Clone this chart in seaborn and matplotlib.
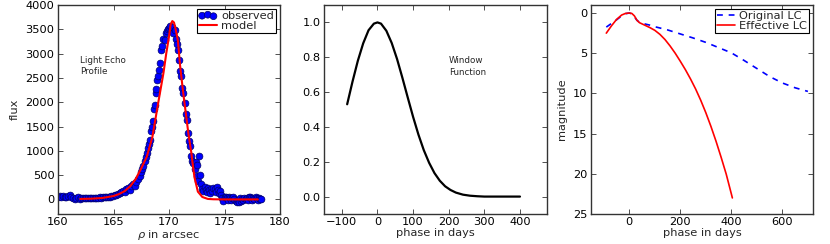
import numpy as np
import pandas as pd
import matplotlib
matplotlib.use("Agg")
import matplotlib.pyplot as plt
import seaborn as sns

# ---------------- data ----------------
# Panel 1: light echo profile
obs_rho = [160.0, 160.15, 160.3, 160.45, 160.6, 160.75, 160.9, 161.05, 161.2, 161.35, 161.5, 161.65, 161.8, 161.95,
           162.1, 162.25, 162.4, 162.55, 162.7, 162.85, 163.0, 163.15, 163.3, 163.45, 163.6, 163.75, 163.9,
           164.05, 164.2, 164.35, 164.5, 164.65, 164.8, 164.95, 165.1, 165.25, 165.4, 165.55, 165.7, 165.85,
           166.0, 166.15, 166.3, 166.45, 166.6, 166.75, 166.9, 167.05, 167.2, 167.35, 167.5, 167.6, 167.7,
           167.8, 167.9, 168.0, 168.1, 168.2, 168.3, 168.4, 168.5, 168.55, 168.65, 168.7, 168.8, 168.85,
           168.95, 169.0, 169.1, 169.2, 169.3, 169.4, 169.5, 169.6, 169.7, 169.8, 169.9, 170.0, 170.1, 170.2,
           170.3, 170.4, 170.5, 170.6, 170.7, 170.8, 170.9, 171.0, 171.1, 171.2, 171.3, 171.4, 171.5, 171.6,
           171.7, 171.8, 171.9, 172.0, 172.1, 172.2, 172.3, 172.4, 172.5, 172.55, 172.6, 172.7, 172.8, 172.9,
           173.0, 173.1, 173.2, 173.3, 173.4, 173.5, 173.6, 173.7, 173.8, 173.9, 174.0, 174.1, 174.2, 174.3,
           174.4, 174.5, 174.6, 174.7, 174.8, 174.9, 175.0, 175.1, 175.2, 175.3, 175.4, 175.5, 175.6, 175.7,
           175.8, 175.9, 176.0, 176.1, 176.2, 176.3, 176.4, 176.5, 176.6, 176.7, 176.8, 176.9, 177.0, 177.1,
           177.2, 177.3, 177.4, 177.5, 177.6, 177.7, 177.8, 177.9, 178.0, 178.1, 178.2, 178.3]
obs_flux = [40, 70, 60, 80, 55, 45, 70, 85, 50, 20, 10, 30, 40, 15,
            20, 30, 25, 35, 20, 30, 25, 35, 30, 20, 35, 40, 30,
            45, 40, 50, 45, 55, 70, 80, 95, 90, 120, 130, 150, 170,
            160, 210, 230, 200, 280, 320, 270, 360, 410, 480, 560, 620, 690,
            800, 870, 960, 1060, 1150, 1230, 1400, 1500, 1620, 1850, 1950, 2190, 2280,
            2450, 2530, 2660, 2800, 3075, 3150, 3310, 3280, 3420, 3470, 3500, 3520, 3560, 3480,
            3550, 3420, 3490, 3300, 3200, 3075, 2870, 2650, 2530, 2300, 2187, 1980, 1750, 1640,
            1370, 1200, 1090, 890, 800, 750, 620, 760, 480, 700, 380, 890, 500, 320,
            220, 180, 250, 200, 160, 230, 190, 140, 210, 180, 240, 220, 150, 250,
            200, 130, 180, 90, 20, -30, 40, 60, 30, -10, 50, 20, -20, 30,
            60, 10, -40, -60, -20, -50, 20, -30, 10, -20, 30, 0, 20, -10,
            40, 60, 20, -20, 30, 10, 40, 20, -10, 30, 10, 0]

model_rho = [162.0, 163.0, 164.0, 165.0, 165.5, 166.0, 166.5, 167.0, 167.5, 168.0, 168.5, 169.0,
             169.5, 169.75, 170.0, 170.15, 170.3, 170.45, 170.6, 170.8, 171.0, 171.25, 171.5,
             171.75, 172.0, 172.15, 172.3, 172.6, 173.0, 173.5, 174.0, 175.0, 176.0, 177.0, 178.0]
model_flux = [10, 15, 30, 70, 110, 170, 270, 420, 640, 880, 1280, 1950,
              2600, 3000, 3350, 3600, 3670, 3640, 3500, 3270, 2750, 2250, 1800,
              1350, 980, 700, 450, 160, 50, 10, 3, 0, 0, 0, 0]

# Panel 2: window function
win_phase = [-85, -70, -55, -40, -25, -10, 0, 10, 25, 40, 55, 70, 85, 100, 115, 130, 145,
             160, 175, 190, 205, 220, 240, 260, 280, 300, 350, 400]
win_value = [0.53, 0.66, 0.78, 0.88, 0.955, 0.993, 1.0, 0.993, 0.952, 0.882, 0.79, 0.682, 0.569,
             0.458, 0.356, 0.267, 0.194, 0.135, 0.091, 0.059, 0.038, 0.023, 0.011, 0.005,
             0.002, 0.0, 0.0, 0.0]

# Panel 3: light curves
orig_phase = [-90, -70, -50, -30, -15, 0, 10, 20, 30, 40, 60, 80, 100, 150, 200, 250, 300, 350,
              400, 450, 500, 550, 600, 650, 700]
orig_mag = [1.75, 1.3, 0.85, 0.35, 0.08, 0.0, 0.1, 0.45, 0.9, 1.15, 1.35, 1.5, 1.7, 2.1, 2.6,
            3.1, 3.65, 4.3, 4.95, 5.9, 6.9, 7.9, 8.7, 9.3, 9.75]
eff_phase = [-90, -70, -50, -30, -15, 0, 10, 20, 30, 40, 60, 80, 100, 120, 140, 160, 180, 200,
             220, 240, 260, 280, 300, 320, 340, 360, 380, 400, 404]
eff_mag = [2.5, 1.6, 0.8, 0.25, 0.05, 0.0, 0.05, 0.35, 0.9, 1.2, 1.5, 1.8, 2.15, 2.65, 3.3,
           4.1, 5.0, 6.0, 7.05, 8.2, 9.45, 10.85, 12.4, 14.1, 15.95, 17.95, 20.05, 22.5, 23.0]

# ---------------- style ----------------
sns.set_style("white")
FS = 8.2
plt.rcParams.update({
    "font.family": ["DejaVu Sans"],
    "font.size": FS,
    "axes.edgecolor": "#333333",
    "axes.linewidth": 1.0,
    "xtick.direction": "in",
    "ytick.direction": "in",
    "xtick.top": True,
    "ytick.right": True,
    "xtick.bottom": True,
    "ytick.left": True,
    "xtick.major.size": 3.5,
    "ytick.major.size": 3.5,
    "xtick.major.width": 0.6,
    "ytick.major.width": 0.6,
    "xtick.color": "#333333",
    "ytick.color": "#333333",
    "xtick.labelcolor": "black",
    "ytick.labelcolor": "black",
    "xtick.labelsize": FS,
    "ytick.labelsize": FS,
    "xtick.major.pad": 2.2,
    "ytick.major.pad": 2.5,
    "axes.labelsize": FS,
    "legend.fontsize": FS,
})

fig = plt.figure(figsize=(8.3, 2.44), dpi=100)
W, H = 830.0, 244.0
bottom = 1 - 214 / H
height = 209 / H
ax1 = fig.add_axes([58 / W, bottom, 222 / W, height])
ax2 = fig.add_axes([324 / W, bottom, 222.7 / W, height])
ax3 = fig.add_axes([591 / W, bottom, 222 / W, height])

# Panel 1
df_obs = pd.DataFrame({"rho": obs_rho, "flux": obs_flux})
df_mod = pd.DataFrame({"rho": model_rho, "flux": model_flux})
sns.scatterplot(data=df_obs, x="rho", y="flux", ax=ax1, color="#0000ff", s=24,
                edgecolor="#000066", linewidth=0.5, label="observed", zorder=2)
sns.lineplot(data=df_mod, x="rho", y="flux", ax=ax1, color="#ff0000", lw=1.5,
             label="model", zorder=3, sort=False)
ax1.set_xlim(160, 180)
ax1.set_ylim(-300, 4000)
ax1.set_xticks([160, 165, 170, 175, 180])
ax1.set_yticks(range(0, 4001, 500))
ax1.set_xlabel(r"$\rho$ in arcsec", labelpad=0.5)
ax1.set_ylabel("flux", labelpad=4)
ax1.text(162.0, 2960, "Light Echo\nProfile", fontsize=6.3, va="top", ha="left", linespacing=1.35)
leg1 = ax1.legend(loc="upper right", scatterpoints=3, handlelength=1.6, handletextpad=0.4,
                  borderpad=0.15, borderaxespad=0.35, labelspacing=0.05, fancybox=False,
                  frameon=True, edgecolor="black", framealpha=1)
leg1.get_frame().set_linewidth(0.8)

# Panel 2
df_win = pd.DataFrame({"phase": win_phase, "value": win_value})
sns.lineplot(data=df_win, x="phase", y="value", ax=ax2, color="black", lw=1.6, sort=False)
ax2.set_xlim(-150, 475)
ax2.set_ylim(-0.1, 1.1)
ax2.set_xticks([-100, 0, 100, 200, 300, 400])
ax2.set_yticks([0.0, 0.2, 0.4, 0.6, 0.8, 1.0])
ax2.set_xlabel("phase in days", labelpad=0.5)
ax2.set_ylabel("")
ax2.text(200, 0.805, "Window\nFunction", fontsize=6.3, va="top", ha="left", linespacing=1.35)

# Panel 3
df_orig = pd.DataFrame({"phase": orig_phase, "mag": orig_mag})
df_eff = pd.DataFrame({"phase": eff_phase, "mag": eff_mag})
sns.lineplot(data=df_orig, x="phase", y="mag", ax=ax3, color="#0000ff", lw=1.2,
             linestyle=(0, (3.5, 3.5)), label="Original LC", sort=False)
sns.lineplot(data=df_eff, x="phase", y="mag", ax=ax3, color="#ff0000", lw=1.2,
             label="Effective LC", sort=False)
ax3.set_xlim(-150, 720)
ax3.set_ylim(25, -1)
ax3.set_xticks([0, 200, 400, 600])
ax3.set_yticks([0, 5, 10, 15, 20, 25])
ax3.set_xlabel("phase in days", labelpad=0.5)
ax3.set_ylabel("magnitude", labelpad=4)
leg3 = ax3.legend(loc="upper right", handlelength=1.6, handletextpad=0.4,
                  borderpad=0.15, borderaxespad=0.35, labelspacing=0.05, fancybox=False,
                  frameon=True, edgecolor="black", framealpha=1)
leg3.get_frame().set_linewidth(0.8)

fig.savefig("out.png", dpi=100)
